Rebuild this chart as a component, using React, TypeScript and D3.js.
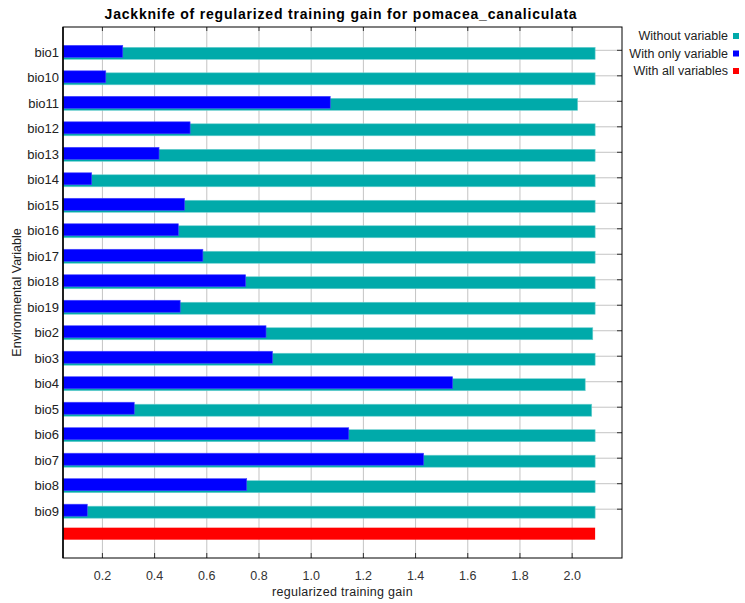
import React from "react";
import * as d3 from "d3";

// Jackknife of regularized training gain, one row per environmental variable
const variables = [
  "bio1", "bio10", "bio11", "bio12", "bio13", "bio14", "bio15", "bio16", "bio17",
  "bio18", "bio19", "bio2", "bio3", "bio4", "bio5", "bio6", "bio7", "bio8", "bio9",
];
// gain of the model built without the variable
const withoutVariable = [
  2.088, 2.088, 2.021, 2.088, 2.088, 2.088, 2.088, 2.088, 2.088,
  2.088, 2.088, 2.079, 2.088, 2.05, 2.075, 2.088, 2.088, 2.088, 2.088,
];
// gain of the model built with only the variable
const withOnlyVariable = [
  0.278, 0.213, 1.073, 0.536, 0.417, 0.159, 0.515, 0.491, 0.585,
  0.749, 0.498, 0.827, 0.852, 1.542, 0.322, 1.144, 1.431, 0.753, 0.142,
];
// gain of the model with all variables
const withAllVariables = 2.088;
const xTicks = [0.2, 0.4, 0.6, 0.8, 1.0, 1.2, 1.4, 1.6, 1.8, 2.0];
const legendItems = ["Without variable", "With only variable", "With all variables"];

const TEAL = "#00aaaa";
const BLUE = "#0000ff";
const RED = "#ff0000";
const legendColors = [TEAL, BLUE, RED];

const W = 745;
const H = 603;
const left = 63;
const right = 622;
const top = 27;
const bottom = 558;
const FONT = "'Liberation Sans', Arial, sans-serif";

export default function App() {
  const x = d3.scaleLinear().domain([0.049, 2.191]).range([left, right]);
  const y = d3
    .scalePoint<string>()
    .domain([...variables, "all"])
    .range([top, bottom])
    .padding(0.915);
  const x0 = x.range()[0];

  return (
    <svg
      width={W}
      height={H}
      style={{ position: "absolute", left: 0, top: 0, background: "#fff" }}
      fontFamily={FONT}
    >
      <rect x={0} y={0} width={W} height={H} fill="#fff" />
      {/* title */}
      <text
        x={341}
        y={18.5}
        textAnchor="middle"
        fontSize={14}
        fontWeight="bold"
        letterSpacing={0.8}
        fill="#000"
      >
        Jackknife of regularized training gain for pomacea_canaliculata
      </text>

      {/* plot background */}
      <rect x={left} y={top} width={right - left} height={bottom - top} fill="#fff" />

      {/* vertical gridlines */}
      {xTicks.map((t) => (
        <line key={"gx" + t} x1={x(t)} x2={x(t)} y1={top} y2={bottom} stroke="#c4c4c4" strokeWidth={1} />
      ))}
      {/* horizontal gridlines */}
      {variables.map((v) => (
        <line key={"gy" + v} x1={left} x2={right} y1={y(v)!} y2={y(v)!} stroke="#c4c4c4" strokeWidth={1} />
      ))}

      {/* bars */}
      {variables.map((v, i) => {
        const c = y(v)!;
        return (
          <g key={"bar" + v}>
            <rect
              x={x0}
              y={c - 3}
              width={x(withoutVariable[i]) - x0}
              height={12}
              fill={TEAL}
              stroke="#6fd0d0"
              strokeWidth={0.6}
            />
            <rect
              x={x0}
              y={c - 5}
              width={x(withOnlyVariable[i]) - x0}
              height={12}
              fill={BLUE}
              stroke="#4a4aff"
              strokeWidth={0.6}
            />
          </g>
        );
      })}
      <rect
        x={x0}
        y={y("all")! - 7}
        width={x(withAllVariables) - x0}
        height={12}
        fill={RED}
      />

      {/* ticks inside the frame */}
      {xTicks.map((t) => (
        <g key={"tk" + t}>
          <line x1={x(t)} x2={x(t)} y1={top} y2={top + 4} stroke="#333" />
          <line x1={x(t)} x2={x(t)} y1={bottom - 5} y2={bottom} stroke="#333" />
        </g>
      ))}
      {variables.map((v) => (
        <line key={"ty" + v} x1={right - 5} x2={right} y1={y(v)!} y2={y(v)!} stroke="#333" />
      ))}

      {/* frame */}
      <rect x={left} y={top} width={right - left} height={bottom - top} fill="none" stroke="#000" strokeWidth={1} />
      <line x1={left} x2={left} y1={top} y2={bottom} stroke="#000" strokeWidth={1.5} />

      {/* category labels */}
      {variables.map((v) => (
        <text key={"ly" + v} x={left - 4} y={y(v)! + 2} dy="0.35em" textAnchor="end" fontSize={13} fill="#222">
          {v}
        </text>
      ))}

      {/* x tick labels */}
      {xTicks.map((t) => (
        <text key={"lx" + t} x={x(t)} y={580} textAnchor="middle" fontSize={12.5} fill="#333">
          {d3.format(".1f")(t)}
        </text>
      ))}

      {/* axis titles */}
      <text
        x={(left + right) / 2}
        y={596}
        textAnchor="middle"
        fontSize={12.5}
        letterSpacing={0.3}
        fill="#222"
      >
        regularized training gain
      </text>
      <text
        transform={`translate(21, ${(top + bottom) / 2}) rotate(-90)`}
        textAnchor="middle"
        fontSize={12.5}
        fill="#222"
      >
        Environmental Variable
      </text>

      {/* legend */}
      {legendItems.map((label, i) => (
        <g key={label}>
          <text x={728} y={36 + i * 17.5} dy="0.35em" textAnchor="end" fontSize={12.5} fill="#222">
            {label}
          </text>
          <rect x={733} y={33 + i * 17.5} width={6} height={6} fill={legendColors[i]} />
        </g>
      ))}
    </svg>
  );
}
